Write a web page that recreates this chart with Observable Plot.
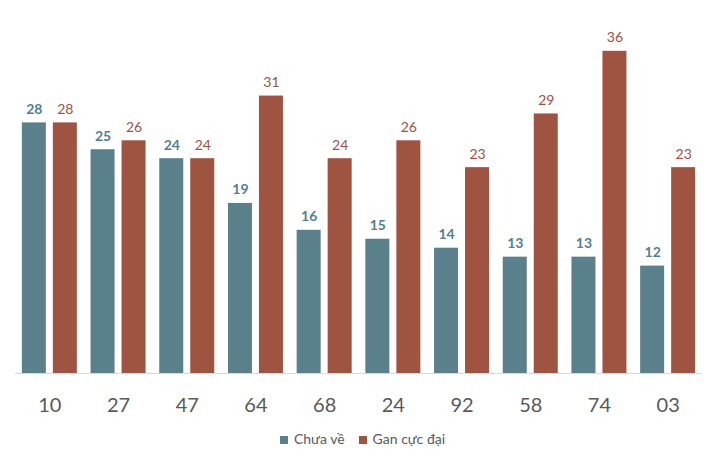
<!DOCTYPE html>
<html><head><meta charset="utf-8">
<script src="https://cdn.jsdelivr.net/npm/d3@7"></script>
<script src="https://cdn.jsdelivr.net/npm/@observablehq/plot@0.6"></script>
<style>
body{margin:0;background:#fff;font-family:Lato,"Open Sans",sans-serif;}
#legend{display:flex;justify-content:center;gap:14px;font-size:14px;color:#595959;margin-top:10px;padding-left:8px}
#legend span.sw{display:inline-block;width:8px;height:8px;margin-right:6px;vertical-align:0px}
</style></head><body>
<div id="chart"></div>
<div id="legend"></div>
<script>
const categories = ["10","27","47","64","68","24","92","58","74","03"];
const chuaVe = [28,25,24,19,16,15,14,13,13,12];
const ganCucDai = [28,26,24,31,24,26,23,29,36,23];
const seriesNames = ["Chưa về","Gan cực đại"];
const colors = ["#5a808b","#9f5442"];

const d1 = categories.map((c,i)=>({cat:c, v:chuaVe[i]}));
const d2 = categories.map((c,i)=>({cat:c, v:ganCucDai[i]}));

const W = 717, mL = 15, mR = 15;
const step = (W - mL - mR) / categories.length;
const barW = 24, gap = 7;
const off = (step - 2*barW - gap)/2;
const inTeal = {insetLeft: off, insetRight: step - off - barW};
const inRed = {insetLeft: off + barW + gap, insetRight: off};
const shift = barW/2 + gap/2;

const plot = Plot.plot({
  width: W, height: 420,
  marginLeft: mL, marginRight: mR, marginTop: 15, marginBottom: 47,
  x: {domain: categories, padding: 0, round: false, label: null, tickSize: 0, tickPadding: 24},
  y: {domain: [0, 40], axis: null},
  style: {fontFamily: "Lato, 'Open Sans', sans-serif", color: "#595959", background: "#fff"},
  marks: [
    Plot.barY(d1, {x: "cat", y: "v", fill: colors[0], ...inTeal}),
    Plot.barY(d2, {x: "cat", y: "v", fill: colors[1], ...inRed}),
    Plot.ruleY([0], {stroke: "#d9d9d9", strokeWidth: 1}),
    Plot.text(d1, {x: "cat", y: "v", text: d => String(d.v), dx: -shift, dy: -9, lineAnchor: "bottom", fill: "#52808f", fontWeight: "bold", fontSize: 14}),
    Plot.text(d2, {x: "cat", y: "v", text: d => String(d.v), dx: shift, dy: -9, lineAnchor: "bottom", fill: "#a0513f", fontSize: 14})
  ]
});
const ax = plot.querySelector('[aria-label="x-axis tick label"]');
if (ax) { ax.setAttribute("font-size","20"); ax.setAttribute("fill","#595959"); }
document.getElementById("chart").appendChild(plot);
const lg = document.getElementById("legend");
seriesNames.forEach((n,i)=>{
  const s = document.createElement("div");
  s.innerHTML = `<span class="sw" style="background:${colors[i]}"></span>${n}`;
  lg.appendChild(s);
});
</script>
</body></html>
